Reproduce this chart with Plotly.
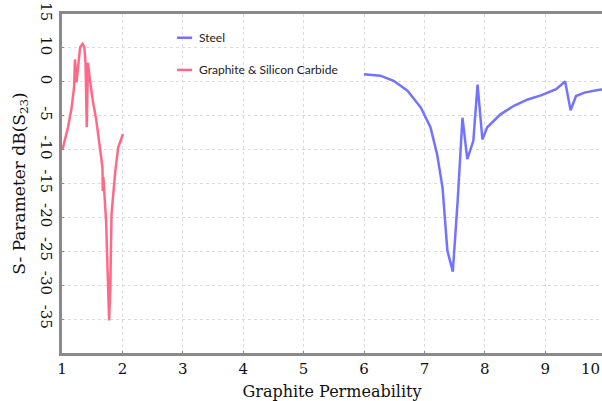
import plotly.graph_objects as go

# Graphite & Silicon Carbide series
gsc_x = [1.01, 1.10, 1.16, 1.20, 1.215, 1.24, 1.30, 1.34, 1.37, 1.39, 1.41, 1.43,
         1.46, 1.51, 1.57, 1.64, 1.67, 1.675, 1.685, 1.73, 1.75, 1.78, 1.80, 1.82,
         1.88, 1.93, 2.01]
gsc_y = [-9.9, -6.7, -3.8, -0.8, 3.3, -0.1, 5.1, 5.6, 5.1, 2.7, -6.7, 2.8,
         0.4, -2.8, -5.8, -10.2, -12.6, -16.1, -14.1, -20.5, -25.4, -35.2, -30.3, -19.5,
         -13.4, -9.7, -7.7]

# Steel series
steel_x = [6.00, 6.27, 6.49, 6.72, 6.94, 7.10, 7.21, 7.30, 7.38, 7.47, 7.55, 7.63,
           7.71, 7.81, 7.88, 7.96, 8.04, 8.26, 8.49, 8.71, 8.93, 9.18, 9.33, 9.42,
           9.51, 9.65, 9.87, 9.96]
steel_y = [1.1, 0.9, 0.15, -1.3, -3.8, -6.7, -10.7, -15.6, -24.9, -28.0, -17.6, -5.3,
           -11.4, -8.7, -0.4, -8.5, -6.7, -4.8, -3.5, -2.6, -2.0, -1.1, 0.05, -4.2,
           -2.1, -1.6, -1.2, -1.1]

x_ticks = [1, 2, 3, 4, 5, 6, 7, 8, 9]
x_last_tick = "10"
y_tickvals = [10, 5, 0, -5, -10, -15, -20, -25, -30, -35]
y_ticktext = ["15", "10", "0", "-5", "-10", "-15", "-20", "-25", "-30", "-35"]

names = ["Steel", "Graphite & Silicon Carbide"]
colors = ["rgb(115,115,255)", "rgb(255,105,135)"]

serif = "DejaVu Serif"

fig = go.Figure()
fig.add_trace(go.Scatter(x=steel_x, y=steel_y, mode="lines", name=names[0],
                         line=dict(color=colors[0], width=2.5), showlegend=False))
fig.add_trace(go.Scatter(x=gsc_x, y=gsc_y, mode="lines", name=names[1],
                         line=dict(color=colors[1], width=2.5), showlegend=False))

# custom legend
leg_y = [0.93, 0.835]
for i, nm in enumerate(names):
    fig.add_shape(type="line", xref="paper", yref="paper",
                  x0=0.213, x1=0.241, y0=leg_y[i], y1=leg_y[i],
                  line=dict(color=colors[i], width=2.5))
    fig.add_annotation(xref="paper", yref="paper", x=0.25, y=leg_y[i],
                       text=nm, showarrow=False, xanchor="left", yanchor="middle",
                       font=dict(family="Lato", size=12, color="#222"))

# last x tick label, partly beyond the plot edge in the reference
fig.add_annotation(xref="paper", yref="paper", x=1.0, y=0, yshift=-5,
                   text=x_last_tick, showarrow=False, xanchor="right", yanchor="top",
                   font=dict(family=serif, size=15, color="#111"))

fig.update_layout(
    width=602, height=401,
    margin=dict(l=62, r=0, t=14, b=48),
    paper_bgcolor="white", plot_bgcolor="white",
    xaxis=dict(
        range=[1, 9.94], tickvals=x_ticks, automargin=False,
        showgrid=True, gridcolor="#dcdcdc", griddash="dot", gridwidth=1,
        showline=True, linecolor="#8a8a8a", linewidth=2.5, mirror=True,
        ticks="inside", ticklen=2, tickcolor="#8a8a8a",
        tickfont=dict(family=serif, size=15, color="#111"),
        zeroline=False,
        title=dict(text="Graphite Permeability", standoff=10,
                   font=dict(family=serif, size=16, color="#111")),
    ),
    yaxis=dict(
        range=[-40, 10], tickvals=y_tickvals, ticktext=y_ticktext, tickangle=90,
        automargin=False,
        showgrid=True, gridcolor="#dcdcdc", griddash="dot", gridwidth=1,
        showline=True, linecolor="#8a8a8a", linewidth=2.5, mirror=True,
        ticks="inside", ticklen=2, tickcolor="#8a8a8a",
        tickfont=dict(family=serif, size=15, color="#111"),
        zeroline=False,
        title=dict(text="S- Parameter dB(S<sub>23</sub>)", standoff=8,
                   font=dict(family=serif, size=17, color="#111")),
    ),
)

fig.write_html("out.html")
